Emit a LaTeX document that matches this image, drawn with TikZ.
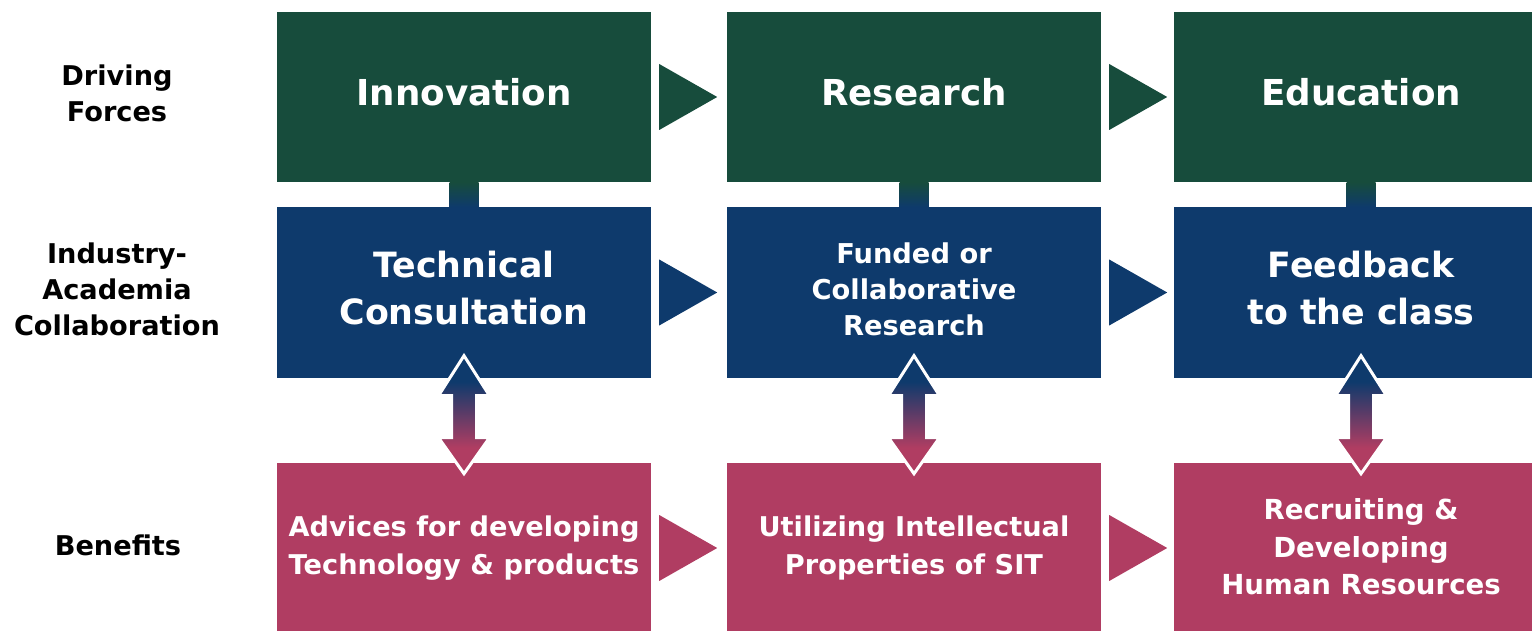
\documentclass[tikz,border=0pt]{standalone}
\usepackage{fontspec}
\setmainfont{DejaVu Sans}[BoldFont={DejaVu Sans Bold}]
\usetikzlibrary{calc}
\definecolor{cgreen}{HTML}{174C3C}
\definecolor{cblue}{HTML}{0E3A6C}
\definecolor{cpink}{HTML}{B03D62}
\pgfdeclareverticalshading{dblshade}{100bp}{color(0bp)=(cpink); color(36bp)=(cpink); color(64bp)=(cblue); color(100bp)=(cblue)}
\tikzset{
  box/.style={minimum width=374pt, minimum height=170pt, inner sep=0pt},
  gbox/.style={box, fill=cgreen},
  bbox/.style={box, fill=cblue},
  pbox/.style={box, fill=cpink},
  txt/.style={align=center, text=white, inner sep=0pt},
  gtxt/.style={txt, font=\bfseries\fontsize{35.7}{47}\selectfont},
  btxt/.style={txt, font=\bfseries\fontsize{34.8}{47}\selectfont},
  stxt/.style={txt, font=\bfseries\fontsize{27.3}{36}\selectfont},
  ptxt/.style={txt, font=\bfseries\fontsize{27.2}{38}\selectfont},
  rowlabel/.style={align=center, text=black, inner sep=0pt, font=\bfseries\fontsize{27.2}{36}\selectfont},
  tri/.style={fill=#1},
  dblarrow/.style={draw=white, line width=3pt, line join=miter, shading=dblshade},
  linkbar/.style={top color=cgreen, bottom color=cblue}
}
\begin{document}
\begin{tikzpicture}[x=1pt,y=-1pt]
\useasboundingbox (0,0) rectangle (1532,631);
\begin{scope}
\clip (0,0) rectangle (1532,631);
% row labels
\node[rowlabel] (l1) at (117,93) {Driving\\Forces};
\node[rowlabel] (l2) at (117,289) {Industry-\\Academia\\Collaboration};
\node[rowlabel] (l3) at (118,545) {Benefits};
% boxes
\node[gbox] (g1) at (464,97) {};
\node[gbox] (g2) at (914,97) {};
\node[gbox] (g3) at (1361,97) {};
\node[bbox] (b1) at (464,292.5) {};
\node[bbox] (b2) at (914,292.5) {};
\node[bbox] (b3) at (1361,292.5) {};
\node[pbox] (p1) at (464,548) {};
\node[pbox] (p2) at (914,548) {};
\node[pbox] (p3) at (1361,548) {};
% texts
\node[gtxt] (g1t) at ($(g1)+(0,-5)$) {Innovation};
\node[gtxt] (g2t) at ($(g2)+(0,-5)$) {Research};
\node[gtxt] (g3t) at ($(g3)+(0,-5)$) {Education};
\node[btxt] (b1t) at ($(b1)+(0,-4)$) {Technical\\Consultation};
\node[stxt] (b2t) at ($(b2)+(0,-3.5)$) {Funded or\\Collaborative\\Research};
\node[btxt] (b3t) at ($(b3)+(0,-4)$) {Feedback\\to the class};
\node[ptxt] (p1t) at ($(p1)+(0,0)$) {Advices for developing\\Technology \& products};
\node[ptxt] (p2t) at ($(p2)+(0,0)$) {Utilizing Intellectual\\Properties of SIT};
\node[ptxt, font=\bfseries\fontsize{27.6}{37.5}\selectfont] (p3t) at ($(p3)+(0,-1)$) {Recruiting \&\\Developing\\Human Resources};
% link bars
\foreach \g/\b in {g1/b1,g2/b2,g3/b3}{
  \shade[linkbar] ($(\g.south)+(-14.5,0)$) rectangle ($(\b.north)+(14.5,0)$);
}
% triangles
\foreach \a/\c in {g1/cgreen,g2/cgreen,b1/cblue,b2/cblue,p1/cpink,p2/cpink}{
  \fill[tri=\c] ($(\a.east)+(8,-33)$) -- ($(\a.east)+(66,0)$) -- ($(\a.east)+(8,33)$) -- cycle;
}
% double arrows
\foreach \b in {b1,b2,b3}{
  \path[dblarrow] ($(\b.south)+(0,-22)$) -- ++(25.5,40) -- ++(-13,0) -- ++(0,42) -- ++(13,0)
    -- ++(-25.5,36) -- ++(-25.5,-36) -- ++(13,0) -- ++(0,-42) -- ++(-13,0) -- cycle;
}
\end{scope}
\end{tikzpicture}
\end{document}
